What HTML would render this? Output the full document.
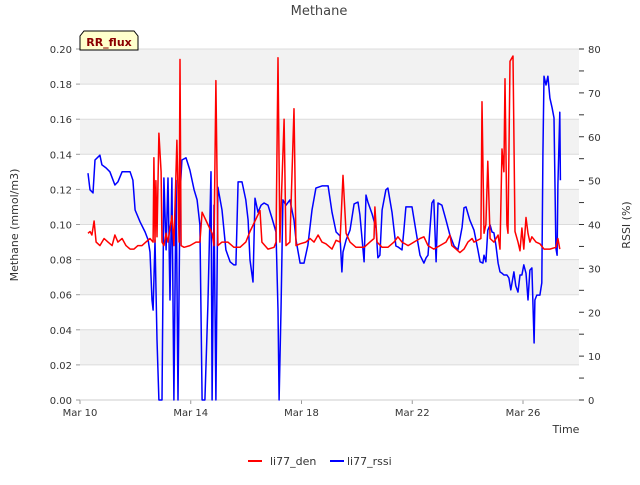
<!DOCTYPE html>
<html><head><meta charset="utf-8"><style>
body{margin:0;background:#fff;}
svg{font-family:"DejaVu Sans","Liberation Sans",sans-serif;}
</style></head><body>
<svg id="c" width="640" height="480" viewBox="0 0 640 480"></svg>
<script>
const denDays=[0.29,0.36,0.43,0.51,0.58,0.72,0.87,1.01,1.16,1.26,1.37,1.52,1.66,1.81,1.95,2.09,2.24,2.38,2.53,2.64,2.67,2.71,2.74,2.78,2.85,2.93,2.96,3.03,3.11,3.18,3.32,3.39,3.50,3.58,3.61,3.65,3.76,3.97,4.19,4.33,4.41,4.62,4.77,4.84,4.91,4.98,5.13,5.34,5.56,5.78,5.99,6.14,6.50,6.57,6.79,7.01,7.08,7.15,7.22,7.37,7.44,7.58,7.73,7.80,7.95,8.16,8.31,8.45,8.60,8.74,8.88,9.10,9.25,9.39,9.50,9.61,9.75,9.97,10.26,10.47,10.62,10.65,10.73,10.91,11.12,11.34,11.48,11.63,11.85,12.06,12.28,12.42,12.57,12.78,13.00,13.22,13.36,13.43,13.58,13.72,13.87,14.01,14.16,14.23,14.48,14.52,14.59,14.66,14.73,14.81,14.95,15.10,15.17,15.24,15.31,15.35,15.42,15.46,15.53,15.64,15.71,15.82,15.89,15.96,16.03,16.11,16.18,16.25,16.32,16.47,16.61,16.76,16.97,17.19,17.26,17.33];
const denVals=[0.095,0.096,0.094,0.102,0.090,0.088,0.092,0.090,0.088,0.094,0.090,0.092,0.088,0.086,0.086,0.088,0.088,0.090,0.092,0.090,0.138,0.090,0.125,0.093,0.152,0.130,0.090,0.088,0.095,0.090,0.105,0.088,0.148,0.090,0.194,0.088,0.087,0.088,0.090,0.090,0.107,0.100,0.095,0.088,0.182,0.088,0.090,0.090,0.087,0.087,0.090,0.096,0.108,0.090,0.086,0.087,0.090,0.195,0.090,0.160,0.088,0.090,0.166,0.088,0.089,0.090,0.092,0.090,0.094,0.090,0.089,0.086,0.091,0.090,0.128,0.095,0.090,0.087,0.087,0.090,0.092,0.110,0.090,0.087,0.087,0.090,0.093,0.090,0.088,0.090,0.092,0.093,0.088,0.086,0.088,0.090,0.094,0.088,0.086,0.084,0.086,0.090,0.092,0.090,0.092,0.170,0.095,0.100,0.136,0.092,0.090,0.094,0.086,0.143,0.130,0.183,0.100,0.095,0.193,0.196,0.096,0.090,0.085,0.098,0.086,0.104,0.095,0.090,0.093,0.090,0.089,0.086,0.086,0.087,0.092,0.086];
const rssiDays=[0.29,0.36,0.47,0.54,0.72,0.79,0.94,1.08,1.26,1.37,1.52,1.66,1.81,1.91,1.99,2.17,2.35,2.46,2.53,2.60,2.64,2.71,2.78,2.85,2.96,3.03,3.11,3.18,3.25,3.32,3.39,3.47,3.54,3.61,3.68,3.83,3.97,4.12,4.23,4.33,4.41,4.51,4.62,4.73,4.77,4.84,4.91,4.98,5.13,5.27,5.42,5.56,5.63,5.71,5.85,5.99,6.07,6.14,6.25,6.32,6.43,6.54,6.65,6.79,6.93,7.08,7.15,7.19,7.26,7.33,7.44,7.58,7.73,7.80,7.95,8.09,8.23,8.38,8.52,8.74,8.96,9.10,9.25,9.39,9.46,9.50,9.61,9.75,9.90,10.04,10.11,10.26,10.33,10.40,10.55,10.69,10.76,10.83,10.91,11.05,11.12,11.27,11.41,11.48,11.63,11.70,11.77,11.99,12.13,12.28,12.42,12.50,12.57,12.71,12.78,12.86,12.93,13.07,13.22,13.36,13.51,13.65,13.80,13.87,13.94,14.08,14.23,14.37,14.45,14.55,14.59,14.66,14.73,14.81,14.88,14.95,15.02,15.10,15.17,15.24,15.31,15.42,15.49,15.56,15.67,15.74,15.82,15.89,15.96,16.03,16.11,16.18,16.25,16.32,16.40,16.43,16.50,16.61,16.68,16.72,16.76,16.83,16.90,16.97,17.05,17.12,17.19,17.23,17.26,17.33,17.35];
const rssiVals=[51.7,47.9,47.2,54.7,55.8,53.6,52.9,52.0,49.0,49.7,52,52,52,50.1,43.3,40.6,38.3,36.5,33.7,22.8,20.5,36.5,13.7,0,0,50.6,34.2,50.6,22.8,50.6,0,50.1,0,46.7,54.7,55.2,52.4,47.9,45.6,39.9,0,0,21.7,52.0,0,44.4,0,48.5,43.3,34.2,31.5,30.8,30.8,49.7,49.7,45.6,41.0,31.9,26.9,46.0,42.8,44.4,44.9,44.4,41.5,38.3,20.5,0,20.5,45.6,44.4,45.6,41.0,36.5,31.2,31.2,35.3,43.3,48.3,48.8,48.8,42.8,38.3,37.4,29.2,33.7,36.5,38.7,44.7,45.1,42.2,31.5,46.7,45.1,42.4,39.2,32.4,33.0,43.3,47.9,48.3,42.8,35.1,34.9,34.2,38.7,44.0,44.0,38.7,33.0,31.2,32.4,33.0,44.9,45.6,31.5,44.9,44.4,41.0,37.6,35.1,34.2,39.4,43.8,44.0,41.0,38.7,34.2,31.5,31.2,33.0,31.5,38.7,39.9,38.3,38.1,35.3,31.2,29.2,28.9,28.5,28.5,27.8,25.1,29.2,26.0,24.6,28.5,28.5,30.8,28.9,22.8,29.6,30.1,13.0,22.8,23.9,23.9,26.7,55.8,73.8,71.8,73.8,68.8,66.6,64.3,34.6,33.0,49.0,65.6,50.1];
const xTickLabels=["Mar 10","Mar 14","Mar 18","Mar 22","Mar 26"];
const xTickDays=[0,4,8,12,16];
const yLeftTicks=[0,0.02,0.04,0.06,0.08,0.10,0.12,0.14,0.16,0.18,0.20];
const yRightTicks=[0,10,20,30,40,50,60,70,80];

const L=80,R=579,T=49,B=400;
const X=d=>L+d*(523-80)/16;
const YL=v=>B-(v/0.2)*(B-T);
const YR=v=>B-(v/80)*(B-T);
const svg=document.getElementById('c');
const NS='http://www.w3.org/2000/svg';
function mk(tag,at,txt){const e=document.createElementNS(NS,tag);for(const k in at)e.setAttribute(k,at[k]);if(txt!==undefined)e.textContent=txt;svg.appendChild(e);return e;}

for(let i=0;i<10;i++){if(i%2===1){const r=mk('rect',{x:L,y:YL(yLeftTicks[i+1]),width:R-L,height:YL(yLeftTicks[i])-YL(yLeftTicks[i+1]),fill:'#f2f2f2'});

}}
yLeftTicks.forEach(v=>{const g=mk('line',{x1:L,x2:R,y1:YL(v),y2:YL(v),stroke:'#dcdcdc','stroke-width':1});


const t=mk('text',{x:L-8,y:YL(v)+4,'text-anchor':'end','font-size':10,fill:'#333'},v.toFixed(2));


mk('line',{x1:L-4,x2:L,y1:YL(v),y2:YL(v),stroke:'#999'});});
for(let v=0;v<=80;v+=5){mk('line',{x1:R,x2:R+5,y1:YR(v),y2:YR(v),stroke:'#333'});}
yRightTicks.forEach(v=>{const t=mk('text',{x:R+9,y:YR(v)+4,'font-size':10,fill:'#333'},String(v));

});
xTickDays.forEach((d,i)=>{mk('line',{x1:X(d),x2:X(d),y1:B,y2:B+4,stroke:'#999'});
const t=mk('text',{x:X(d),y:416,'text-anchor':'middle','font-size':10,fill:'#333'},xTickLabels[i]);

});
mk('line',{x1:L,x2:R,y1:B,y2:B,stroke:'#ccc'});

const pd=denDays.map((d,i)=>(i?'L':'M')+X(d).toFixed(1)+','+YL(denVals[i]).toFixed(1)).join('');
const pr=rssiDays.map((d,i)=>(i?'L':'M')+X(d).toFixed(1)+','+YR(rssiVals[i]).toFixed(1)).join('');
const lb=mk('path',{d:pr,fill:'none',stroke:'#0000ff','stroke-width':1.5,'stroke-linejoin':'round'});


const lr=mk('path',{d:pd,fill:'none',stroke:'#ff0000','stroke-width':1.5,'stroke-linejoin':'round'});


</script>
<svg width="640" height="480" style="position:absolute;left:0;top:0" font-family="DejaVu Sans, Liberation Sans, sans-serif">
<text x="319" y="15" text-anchor="middle" font-size="13" fill="#444">Methane</text>
<g><path d="M80,50 L80,36 L84,31 L134,31 L138,36 L138,50 Z" fill="#ffffcc" stroke="#000"/><text x="109" y="46" text-anchor="middle" font-size="11" font-weight="bold" fill="#8b0000">RR_flux</text></g>
<text transform="translate(18,225) rotate(-90)" text-anchor="middle" font-size="11" fill="#333">Methane (mmol/m3)</text>
<text transform="translate(630,225) rotate(-90)" text-anchor="middle" font-size="11" fill="#333">RSSI (%)</text>
<text x="566" y="433" text-anchor="middle" font-size="11" fill="#333">Time</text>
<g><line x1="248" x2="262" y1="461" y2="461" stroke="#ff0000" stroke-width="2"/><text x="270" y="465" font-size="11" fill="#333">li77_den</text></g>
<g><line x1="330" x2="344" y1="461" y2="461" stroke="#0000ff" stroke-width="2"/><text x="347" y="465" font-size="11" fill="#333">li77_rssi</text></g>
</svg>
</body></html>
